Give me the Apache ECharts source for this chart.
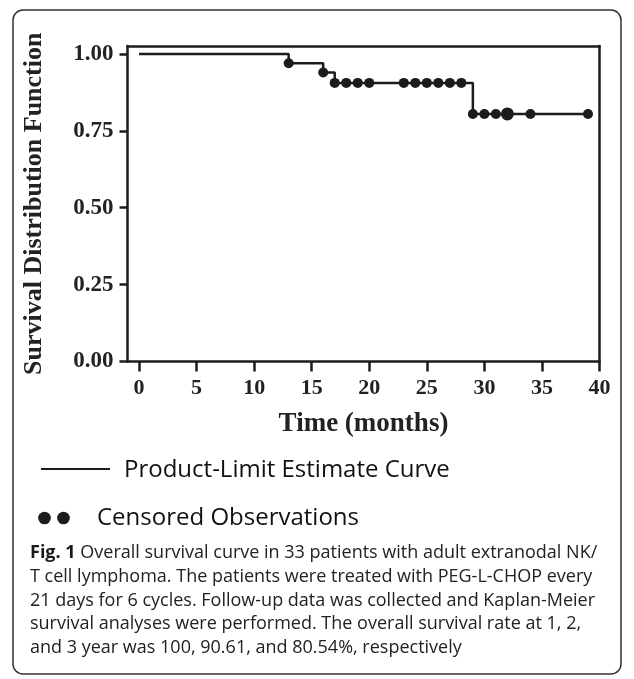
<!DOCTYPE html>
<html><head><meta charset="utf-8">
<script src="https://cdn.jsdelivr.net/npm/echarts@6/dist/echarts.min.js"></script>
<style>html,body{margin:0;padding:0;background:#fff}#c{width:634px;height:679px}</style>
</head><body><div id="c"></div>
<script>
// Kaplan-Meier step curve (time in months, survival)
const stepTimes = [0, 13, 16, 17, 29, 39];
const stepSurv = [1.0, 0.970, 0.940, 0.906, 0.805, 0.805];
// censored observations
const censorTimes = [13, 16, 17, 18, 19, 20, 23, 24, 25, 26, 27, 28, 29, 30, 31, 32, 34, 39];
const censorSurv = [0.970, 0.940, 0.906, 0.906, 0.906, 0.906, 0.906, 0.906, 0.906, 0.906, 0.906, 0.906, 0.805, 0.805, 0.805, 0.805, 0.805, 0.805];
const censorCount = [1, 1, 1, 1, 1, 1, 1, 1, 1, 1, 1, 1, 1, 1, 1, 2, 1, 1];
// tick labels
const xTicks = [0, 5, 10, 15, 20, 25, 30, 35, 40];
const yTicks = [0, 0.25, 0.5, 0.75, 1.0];

const captionLines = [
  ['Fig. 1', ' Overall survival curve in 33 patients with adult extranodal NK/'],
  ['', 'T cell lymphoma. The patients were treated with PEG-L-CHOP every'],
  ['', '21 days for 6 cycles. Follow-up data was collected and Kaplan-Meier'],
  ['', 'survival analyses were performed. The overall survival rate at 1, 2,'],
  ['', 'and 3 year was 100, 90.61, and 80.54%, respectively']
];

const ink = '#1c1c1c';
const serif = '"Liberation Serif", "DejaVu Serif", serif';
const sans = '"Open Sans", "Noto Sans", sans-serif';

const chart = echarts.init(document.getElementById('c'), null, {renderer: 'canvas'});

const captionY = [553, 577, 601, 624, 648];
const graphics = [
  {type: 'rect', shape: {x: 13, y: 10, width: 608, height: 664, r: 10}, style: {fill: 'none', stroke: '#333', lineWidth: 1.5}},
  {type: 'line', shape: {x1: 41, y1: 469, x2: 110, y2: 469}, style: {stroke: ink, lineWidth: 2}},
  {type: 'text', x: 124, y: 470, style: {text: 'Product-Limit Estimate Curve', font: '24px ' + sans, fill: '#111', verticalAlign: 'middle'}},
  {type: 'circle', shape: {cx: 44.5, cy: 518, r: 6.3}, style: {fill: ink}},
  {type: 'circle', shape: {cx: 63.5, cy: 518, r: 6.3}, style: {fill: ink}},
  {type: 'text', x: 97, y: 518, style: {text: 'Censored Observations', font: '24px ' + sans, fill: '#111', verticalAlign: 'middle'}}
];
captionLines.forEach((ln, i) => {
  graphics.push({type: 'text', x: 30, y: captionY[i], style: {
    text: (ln[0] ? '{b|' + ln[0] + '}' : '') + '{r|' + ln[1] + '}',
    verticalAlign: 'middle',
    rich: {
      b: {font: 'bold 18px ' + sans, fill: '#1a1a1a'},
      r: {font: '18px ' + sans, fill: '#222'}
    }
  }});
});

chart.setOption({
  animation: false,
  grid: {left: 127.5, right: 34.5, top: 46, bottom: 317.5, containLabel: false},
  xAxis: [{
    type: 'value', min: -1, max: 40, position: 'bottom',
    axisLine: {onZero: false, lineStyle: {color: ink, width: 2.5}},
    axisTick: {customValues: xTicks, length: 10, lineStyle: {color: ink, width: 2.5}},
    axisLabel: {customValues: xTicks, margin: 16, color: '#222', fontFamily: serif, fontWeight: 'bold', fontSize: 22},
    splitLine: {show: false},
    name: 'Time (months)', nameLocation: 'middle', nameGap: 49,
    nameTextStyle: {color: '#222', fontFamily: serif, fontWeight: 'bold', fontSize: 27}
  }, {
    type: 'value', min: -1, max: 40, position: 'top',
    axisLine: {onZero: false, lineStyle: {color: ink, width: 2.5}},
    axisTick: {show: false}, axisLabel: {show: false}, splitLine: {show: false}
  }],
  yAxis: [{
    type: 'value', min: 0, max: 1.026, position: 'left',
    axisLine: {onZero: false, lineStyle: {color: ink, width: 2.5}},
    axisTick: {customValues: yTicks, length: 8, lineStyle: {color: ink, width: 2.5}},
    axisLabel: {customValues: yTicks, margin: 14, formatter: v => v.toFixed(2), color: '#222', fontFamily: serif, fontWeight: 'bold', fontSize: 23},
    splitLine: {show: false},
    name: 'Survival Distribution Function', nameLocation: 'middle', nameGap: 80,
    nameTextStyle: {color: '#222', fontFamily: serif, fontWeight: 'bold', fontSize: 26}
  }, {
    type: 'value', min: 0, max: 1.026, position: 'right',
    axisLine: {onZero: false, lineStyle: {color: ink, width: 2.5}},
    axisTick: {show: false}, axisLabel: {show: false}, splitLine: {show: false}
  }],
  series: [{
    type: 'line', step: 'end', symbol: 'none',
    data: stepTimes.map((t, i) => [t, stepSurv[i]]),
    lineStyle: {color: ink, width: 2.5}
  }, {
    type: 'scatter', symbol: 'circle',
    data: censorTimes.map((t, i) => [t, censorSurv[i], censorCount[i]]),
    symbolSize: d => d[2] > 1 ? 13 : 10,
    itemStyle: {color: ink, opacity: 1}
  }],
  graphic: graphics
});
</script></body></html>
